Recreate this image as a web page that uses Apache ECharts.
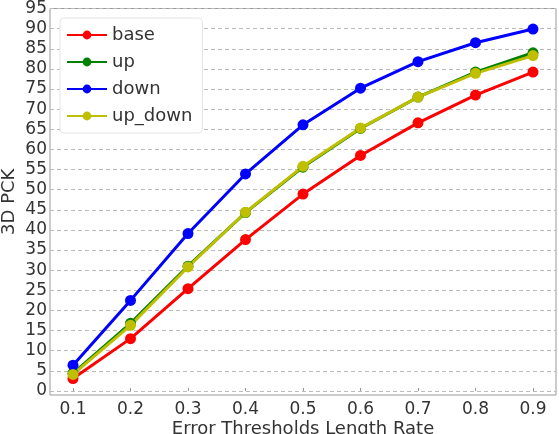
<!DOCTYPE html>
<html>
<head>
<meta charset="utf-8">
<script src="https://cdn.jsdelivr.net/npm/echarts@6/dist/echarts.min.js"></script>
<style>
  html, body { margin: 0; padding: 0; background: #fff; }
  #chart { width: 559px; height: 434px; }
</style>
</head>
<body>
<div id="chart"></div>
<script>
// error threshold (x) and 3D PCK per model
const thresholds = [0.1, 0.2, 0.3, 0.4, 0.5, 0.6, 0.7, 0.8, 0.9];
const baseVals = [3.1, 13.0, 25.4, 37.6, 48.9, 58.5, 66.6, 73.5, 79.2];
const upVals = [4.4, 16.8, 31.0, 44.3, 55.6, 65.2, 73.0, 79.2, 84.0];
const downVals = [6.4, 22.5, 39.1, 53.9, 66.1, 75.2, 81.8, 86.5, 89.9];
const upDownVals = [4.1, 16.3, 30.8, 44.4, 55.8, 65.3, 73.0, 78.9, 83.3];
const yTicks = [0, 5, 10, 15, 20, 25, 30, 35, 40, 45, 50, 55, 60, 65, 70, 75, 80, 85, 90, 95];

const font = 'DejaVu Sans';

function pairs(vals) {
  return thresholds.map((t, i) => [t, vals[i]]);
}

function line(name, color, vals) {
  return {
    name: name,
    type: 'line',
    data: pairs(vals),
    symbol: 'circle',
    symbolSize: 11,
    lineStyle: { width: 3, color: color },
    itemStyle: { color: color },
    emphasis: { disabled: true }
  };
}

let chart = echarts.init(document.getElementById('chart'));
chart.setOption({
  animation: false,
  textStyle: { fontFamily: font },
  grid: {
    left: 50,
    right: 3,
    top: 8.5,
    bottom: 39,
    outerBoundsMode: 'none',
    containLabel: false,
    show: true,
    borderColor: '#999',
    borderWidth: 1
  },
  legend: {
    orient: 'vertical',
    left: 60,
    top: 18,
    itemWidth: 40,
    itemHeight: 11,
    itemGap: 9,
    padding: [8, 10, 8, 6],
    backgroundColor: '#fff',
    borderColor: '#e4e4e4',
    borderWidth: 1,
    borderRadius: 4,
    textStyle: { fontFamily: font, fontSize: 18, color: '#333' },
    data: ['base', 'up', 'down', 'up_down']
  },
  xAxis: {
    type: 'value',
    min: 0.06,
    max: 0.94,
    name: 'Error Thresholds Length Rate',
    nameLocation: 'middle',
    nameMoveOverlap: false,
    nameGap: 25,
    nameTextStyle: { fontFamily: font, fontSize: 18, color: '#333' },
    axisLine: { show: false },
    axisTick: { show: true, inside: true, length: 3, lineStyle: { color: '#999' }, customValues: thresholds },
    axisLabel: {
      fontFamily: font, fontSize: 17, color: '#333', margin: 6,
      customValues: thresholds,
      formatter: v => v.toFixed(1)
    },
    splitLine: { show: false }
  },
  yAxis: {
    type: 'value',
    min: -1,
    max: 95,
    name: '3D PCK',
    nameLocation: 'middle',
    nameMoveOverlap: false,
    nameGap: 32,
    nameTextStyle: { fontFamily: font, fontSize: 18, color: '#333' },
    axisLine: { show: false },
    axisTick: { show: false, customValues: yTicks },
    axisLabel: {
      fontFamily: font, fontSize: 17, color: '#333', margin: 3,
      customValues: yTicks
    },
    splitLine: { show: true, lineStyle: { color: '#bbb', type: [4, 3], width: 1 } }
  },
  series: [
    line('base', '#ff0000', baseVals),
    line('up', '#008000', upVals),
    line('down', '#0000ff', downVals),
    line('up_down', '#bfbf00', upDownVals)
  ]
});
</script>
</body>
</html>
